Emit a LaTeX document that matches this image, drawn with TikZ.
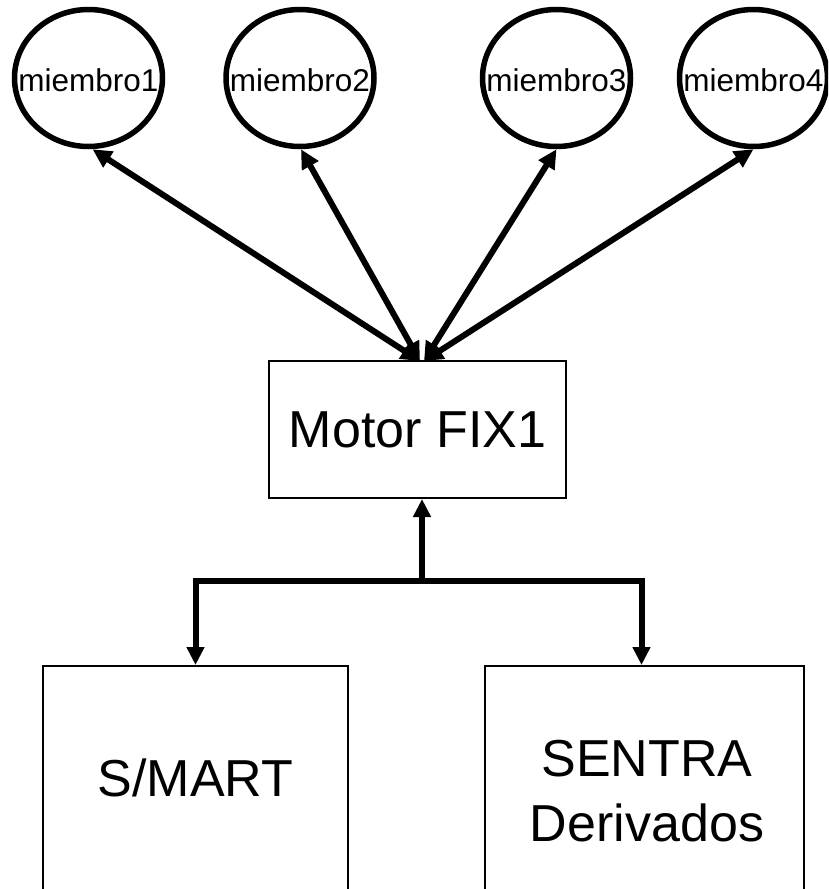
\documentclass[tikz,border=0pt]{standalone}
\usepackage{fontspec}
\setmainfont{Liberation Sans}
\usetikzlibrary{arrows.meta,shapes.geometric,calc}
\tikzset{
  member/.style={ellipse,draw,line width=5.5pt,minimum width=148pt,minimum height=137pt,inner sep=0pt},
  memtext/.style={font=\fontsize{31.5}{36}\selectfont,inner sep=0pt},
  boxnode/.style={draw,line width=2pt,inner sep=0pt,font=\fontsize{52}{65}\selectfont,align=center},
  link/.style={line width=6pt,-{Triangle[length=18pt,width=17pt]}},
  dlink/.style={line width=6pt,{Triangle[length=19pt,width=18pt]}-{Triangle[length=19pt,width=18pt]}},
}
\begin{document}
\begin{tikzpicture}[x=1pt,y=-1pt]
\useasboundingbox (0,0) rectangle (828,889);
\clip (0,0) rectangle (828,889);
% members
\node[member] (m1) at (88.5,78) {};
\node[member] (m2) at (300,78) {};
\node[member] (m3) at (556.5,78) {};
\node[member] (m4) at (753.5,78) {};
\node[memtext] (t1) at (88.5,80) {miembro1};
\node[memtext] (t2) at (300,80) {miembro2};
\node[memtext] (t3) at (556.5,80) {miembro3};
\node[memtext] (t4) at (753.5,80) {miembro4};
% motor
\node[boxnode,minimum width=297pt,minimum height=137pt] (motor) at (417.5,429.5) {Motor FIX1};
% bottom boxes (extend past bottom edge)
\node[boxnode,minimum width=305pt,minimum height=260pt,anchor=north] (smart) at (195.5,665) {};
\node[boxnode,minimum width=319pt,minimum height=260pt,anchor=north] (sentra) at (644.5,665) {};
\node[font=\fontsize{52}{65}\selectfont] (smartt) at (195.5,778) {S/MART};
\node[font=\fontsize{52}{65}\selectfont,align=center] (sentrat) at (647,791) {SENTRA\\Derivados};
% connectors top
\coordinate (ta) at (420,361);
\coordinate (tb) at (424,361);
\draw[dlink] ($(m1.south)+(4,0)$) -- (ta);
\draw[dlink] ($(m2.south)+(1,0)$) -- (ta);
\draw[dlink] ($(m3.south)+(0,0)$) -- (tb);
\draw[dlink] ($(m4.south)+(0,0)$) -- (tb);
% connectors bottom
\coordinate (jn) at (422,581);
\draw[link] (jn) -- (motor.south -| jn);
\draw[link] (jn) -| (smart.north);
\draw[link] (jn) -| ($(sentra.north)+(-3,0)$);
\end{tikzpicture}
\end{document}
